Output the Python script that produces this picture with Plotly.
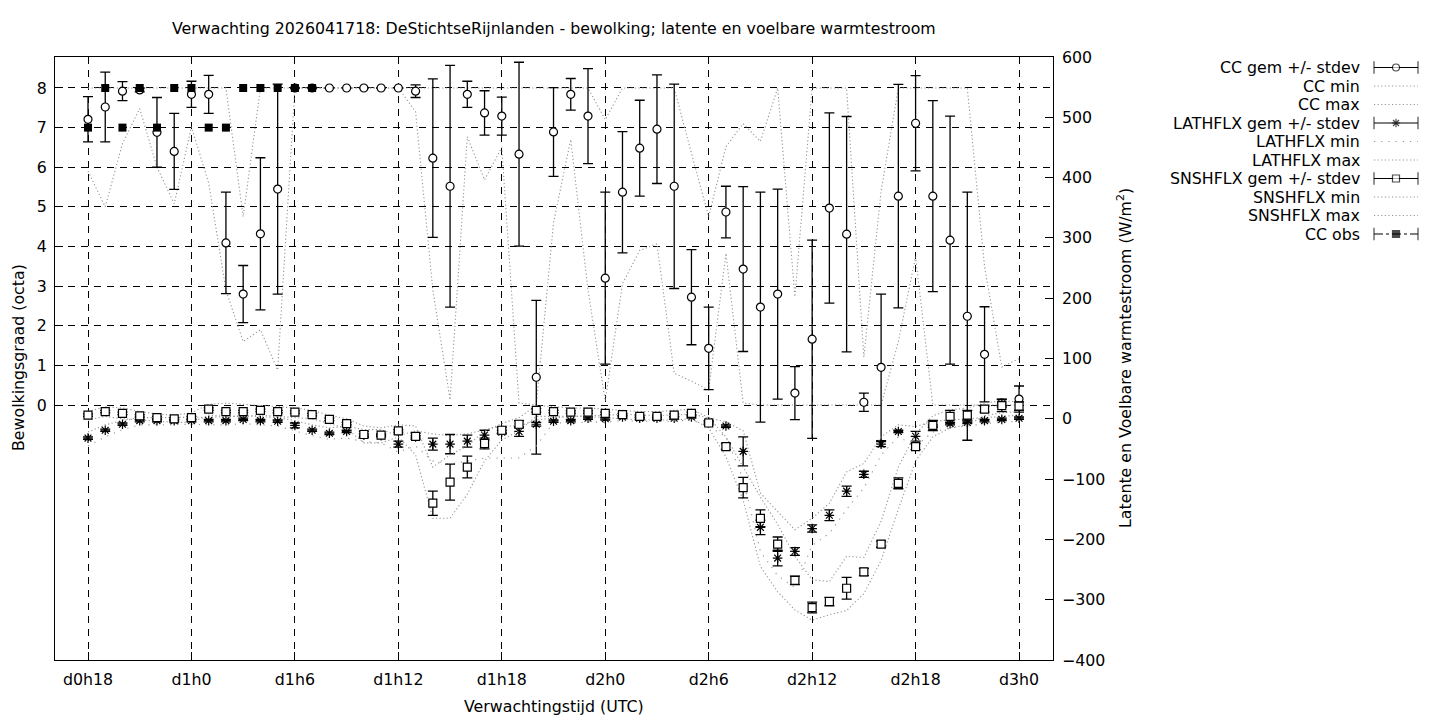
import plotly.graph_objects as go

# verwachtingsuren (lead time in uren vanaf d0h0)
uren = list(range(18, 73))
tick_uren = [18, 24, 30, 36, 42, 48, 54, 60, 66, 72]
tick_labels = ["d0h18", "d1h0", "d1h6", "d1h12", "d1h18", "d2h0", "d2h6", "d2h12", "d2h18", "d3h0"]

# bewolking (octa)
cc_gem = [7.21, 7.52, 7.92, 7.95, 6.88, 6.40, 7.84, 7.84, 4.09, 2.80, 4.32, 5.45, 8.00,
          8.00, 8.00, 8.00, 8.00, 8.00, 8.00, 7.92, 6.23, 5.52, 7.84, 7.37, 7.29, 6.33, 0.70,
          6.89, 7.84, 7.29, 3.20, 5.37, 6.48, 6.96, 5.52, 2.72, 1.43, 4.87, 3.43, 2.47, 2.80,
          0.30, 1.66, 4.97, 4.31, 0.07, 0.95, 5.27, 7.11, 5.27, 4.16, 2.24, 1.28, 0.05, 0.15]
cc_std = [0.57, 0.88, 0.24, 0.05, 0.88, 0.96, 0.33, 0.48, 1.28, 0.72, 1.92, 2.65, 0.0,
          0.0, 0.0, 0.0, 0.0, 0.0, 0.0, 0.16, 2.00, 3.05, 0.33, 0.56, 0.48, 2.32, 1.94,
          1.12, 0.40, 1.20, 2.17, 1.53, 1.21, 1.37, 2.58, 1.20, 1.04, 0.65, 2.08, 2.90, 2.65,
          0.67, 2.50, 2.40, 2.97, 0.23, 1.85, 2.82, 1.20, 2.41, 3.13, 3.13, 1.20, 0.10, 0.33]
cc_min = [5.9, 5.0, 6.6, 7.48, 6.0, 5.08, 7.02, 5.6, 2.9, 1.6, 1.9, 0.88, 8.0,
          8.0, 8.0, 8.0, 8.0, 8.0, 8.0, 7.4, 2.9, 0.13, 6.77, 5.68, 6.5, 0.05, 0.0,
          4.6, 6.7, 2.9, 0.1, 3.06, 3.9, 4.07, 0.8, 0.6, 0.38, 3.83, 0.05, 0.0, 0.0,
          0.0, 0.0, 0.0, 0.0, 0.0, 0.0, 1.6, 3.74, 0.0, 0.0, 0.0, 0.0, 0.0, 0.0]
cc_max = [8.0, 8.0, 8.0, 8.0, 8.0, 8.0, 8.0, 8.0, 8.0, 4.75, 8.0, 8.0, 8.0,
          8.0, 8.0, 8.0, 8.0, 8.0, 8.0, 8.0, 8.0, 8.0, 8.0, 8.0, 8.0, 8.0, 8.0,
          8.0, 8.0, 8.0, 7.2, 8.0, 8.0, 8.0, 8.0, 6.35, 4.75, 6.52, 7.1, 6.65, 8.0,
          2.73, 8.0, 8.0, 8.0, 1.21, 5.4, 8.0, 8.0, 8.0, 8.0, 8.0, 3.5, 0.96, 1.17]
cc_obs = [7, 8, 7, 8, 7, 8, 8, 7, 7, 8, 8, 8, 8, 8] + [None] * 41

# latente warmtestroom (W/m2)
lath_gem = [-32, -19, -9, -3, -3, -3, -3, -3, -3, -1, -3, -4, -11,
            -19, -24, -21, -27, -28, -42, -30, -42, -42, -37, -27, -22, -21, -9,
            -4, -3, 1, 0, 3, 1, 1, 1, 3, -5, -12, -54, -180, -231,
            -220, -182, -160, -120, -92, -42, -21, -29, -12, -8, -6, -3, -1, 1]
lath_std = [2, 2, 2, 2, 2, 2, 2, 2, 2, 2, 2, 2, 4,
            2, 2, 2, 2, 2, 5, 2, 10, 16, 10, 8, 3, 8, 3,
            2, 2, 2, 2, 2, 2, 2, 2, 2, 2, 2, 24, 12, 13,
            6.5, 6, 9, 8.5, 5, 4, 2, 8, 2, 2, 2, 2, 2, 2]
lath_min = [-45, -30, -18, -10, -10, -9, -9, -10, -10, -8, -10, -12, -20,
            -28, -34, -32, -38, -40, -55, -45, -70, -75, -70, -65, -65, -65, -45,
            -6, -8, -5, -6, -3, -4, -4, -4, -2, -12, -30, -100, -220, -260,
            -280, -210, -190, -150, -115, -60, -30, -45, -22, -15, -12, -8, -6, -4]
lath_max = [-22, -10, -3, 2, 2, 2, 2, 3, 3, 5, 3, 2, -3,
            -10, -15, -12, -18, -18, -28, -20, -25, -28, -25, -18, -12, -12, -2,
            2, 3, 6, 5, 8, 6, 6, 6, 8, 2, -5, -20, -123, -154,
            -184, -165, -140, -88, -74, -30, -10, -13, -4, -2, 0, 2, 4, 6]

# voelbare warmtestroom (W/m2)
snsh_gem = [6, 12, 9, 5, 2, 0, 2, 16, 12, 12, 14, 12, 11,
            7, -1, -8, -26, -27, -20, -29, -140, -105, -80, -41, -19, -9, 14,
            12, 11, 11, 9, 7, 4, 4, 6, 9, -7, -46, -114, -165, -208,
            -268, -313, -303, -281, -254, -208, -107, -46, -11, 4, 6, 16, 22, 21]
snsh_std = [2, 2, 2, 2, 2, 2, 2, 2, 2, 2, 2, 2, 2,
            2, 2, 2, 5, 2, 2, 5, 20, 30, 18, 9, 5, 6, 3,
            2, 2, 2, 2, 2, 2, 2, 2, 2, 3, 5, 17, 14, 12,
            7, 9, 7, 18, 6, 5, 9, 5, 8.5, 10, 8, 5, 10, 7]
snsh_min = [-2, 4, 0, -2, -4, -6, -6, 6, 4, 4, 6, 4, 2,
            0, -8, -16, -40, -40, -30, -60, -165, -165, -125, -70, -35, -20, 4,
            4, 4, 4, 2, 0, -2, -2, -2, 0, -15, -63, -135, -245, -287,
            -317, -334, -325, -318, -290, -235, -150, -70, -30, -15, -10, 5, 10, 12]
snsh_max = [12, 20, 18, 12, 8, 6, 10, 24, 26, 24, 22, 20, 18,
            14, 6, 0, -12, -15, -10, -12, -80, -60, -45, -20, -8, 2, 22,
            20, 18, 18, 16, 14, 12, 12, 14, 16, 2, -30, -80, -130, -175,
            -228, -267, -270, -228, -230, -170, -80, -25, 5, 15, 18, 26, 30, 28]

GRIJS = "#959595"
STIP = "1.2px,2.4px"
FONT = "DejaVu Sans"
FS = 15.8
# pagina heeft 8px body-marge; figuur schuift daardoor 8px op
OX, OY = 8, 8
W, H = 1440 - 2 * OX, 720 - OY


def px(sx):
    return (sx - OX) / W


def py(sy):
    return 1 - (sy - OY) / H


def minmax_lijn(y, yas, dash):
    return go.Scatter(x=uren, y=y, yaxis=yas, mode="lines",
                      line=dict(color=GRIJS, width=1.1, dash=dash),
                      hoverinfo="skip", showlegend=False)


def gem_punten(y, std, yas, symbool, vulling):
    return go.Scatter(x=uren, y=y, yaxis=yas, mode="markers",
                      error_y=dict(type="data", array=std, color="black", thickness=1.3, width=5),
                      marker=dict(symbol=symbool, size=8, color=vulling,
                                  line=dict(color="black", width=1.2)),
                      showlegend=False)


fig = go.Figure()
fig.add_trace(minmax_lijn(cc_min, "y", STIP))
fig.add_trace(minmax_lijn(cc_max, "y", STIP))
fig.add_trace(gem_punten(cc_gem, cc_std, "y", "circle", "white"))
fig.add_trace(go.Scatter(x=uren, y=cc_obs, mode="markers",
                         marker=dict(symbol="square", size=8, color="black"),
                         showlegend=False))
fig.add_trace(minmax_lijn(lath_min, "y2", "1.2px,6px"))
fig.add_trace(minmax_lijn(lath_max, "y2", STIP))
fig.add_trace(gem_punten(lath_gem, lath_std, "y2", "asterisk", "black"))
fig.add_trace(minmax_lijn(snsh_min, "y2", STIP))
fig.add_trace(minmax_lijn(snsh_max, "y2", STIP))
fig.add_trace(gem_punten(snsh_gem, snsh_std, "y2", "square", "white"))

# legenda in gnuplot-stijl (tekst rechts uitgelijnd, voorbeeld rechts ervan)
leg_items = [
    ("CC gem +/- stdev", "circle", "white", "solid", "black"),
    ("CC min", None, None, STIP, GRIJS),
    ("CC max", None, None, STIP, GRIJS),
    ("LATHFLX gem +/- stdev", "asterisk", "black", "solid", "black"),
    ("LATHFLX min", None, None, "1.2px,6px", GRIJS),
    ("LATHFLX max", None, None, STIP, GRIJS),
    ("SNSHFLX gem +/- stdev", "square", "white", "solid", "black"),
    ("SNSHFLX min", None, None, STIP, GRIJS),
    ("SNSHFLX max", None, None, STIP, GRIJS),
    ("CC obs", "square", "black", "dashdot", "black"),
]
leg_x0, leg_x1, leg_tekst_x = 1374, 1418, 1362
leg_y0, leg_dy = 67.5, 18.5
annotations = []
for i, (naam, symbool, vulling, dash, kleur) in enumerate(leg_items):
    yy = leg_y0 + i * leg_dy
    if symbool:
        fig.add_trace(go.Scatter(
            x=[leg_x0, (leg_x0 + leg_x1) / 2, leg_x1], y=[yy, yy, yy], xaxis="x3", yaxis="y3",
            mode="lines+markers", line=dict(color=kleur, width=1.2, dash=dash),
            marker=dict(symbol=["line-ns", symbool, "line-ns"], size=[9, 7, 9],
                        color=["black", vulling, "black"], line=dict(color="black", width=1.2)),
            hoverinfo="skip", showlegend=False))
    else:
        fig.add_trace(go.Scatter(
            x=[leg_x0, leg_x1], y=[yy, yy], xaxis="x3", yaxis="y3", mode="lines",
            line=dict(color=kleur, width=1.1, dash=dash), hoverinfo="skip", showlegend=False))
    annotations.append(dict(x=leg_tekst_x, y=yy, xref="x3", yref="y3", text=naam,
                            showarrow=False, xanchor="right", yanchor="middle",
                            font=dict(family=FONT, size=FS, color="black")))

annotations += [
    dict(x=px(554), y=py(29), xref="paper", yref="paper", showarrow=False,
         text="Verwachting 2026041718: DeStichtseRijnlanden - bewolking; latente en voelbare warmtestroom",
         xanchor="center", yanchor="middle", font=dict(family=FONT, size=FS, color="black")),
    dict(x=px(554), y=py(706), xref="paper", yref="paper", showarrow=False,
         text="Verwachtingstijd (UTC)", xanchor="center", yanchor="middle",
         font=dict(family=FONT, size=FS, color="black")),
    dict(x=px(18), y=py(358), xref="paper", yref="paper", showarrow=False,
         text="Bewolkingsgraad (octa)", textangle=-90, xanchor="center", yanchor="middle",
         font=dict(family=FONT, size=FS, color="black")),
    dict(x=px(1124), y=py(358), xref="paper", yref="paper", showarrow=False,
         text="Latente en Voelbare warmtestroom (W/m<sup>2</sup>)", textangle=-90,
         xanchor="center", yanchor="middle", font=dict(family=FONT, size=FS, color="black")),
]

grid = dict(showgrid=True, gridcolor="black", gridwidth=1, griddash="7px,6px")
tick = dict(ticks="inside", ticklen=8, tickcolor="black", automargin=False,
            tickfont=dict(family=FONT, size=FS, color="black"))

fig.update_layout(
    width=W, height=H,
    margin=dict(l=0, r=0, t=0, b=0, autoexpand=False),
    paper_bgcolor="white", plot_bgcolor="white",
    font=dict(family=FONT, size=FS, color="black"),
    showlegend=False,
    annotations=annotations,
    xaxis=dict(domain=[px(55), px(1053)], range=[16.086, 73.97], anchor="y",
               tickmode="array", tickvals=tick_uren, ticktext=tick_labels,
               ticklabelstandoff=5,
               showline=True, linecolor="black", linewidth=1, mirror=True,
               zeroline=False, **grid, **tick),
    yaxis=dict(domain=[py(660), py(57)], range=[-6.435, 8.782], anchor="x",
               tickmode="array", tickvals=list(range(0, 9)), ticklabelstandoff=4,
               showline=True, linecolor="black", linewidth=1, mirror=True,
               zeroline=False, **grid, **tick),
    yaxis2=dict(overlaying="y", side="right", anchor="x", range=[-400, 600], dtick=100,
                ticklabelstandoff=8,
                showgrid=False, zeroline=False, showline=False, **tick),
    xaxis3=dict(domain=[0.78, 1.0], range=[0.78 * W + OX, W + OX], anchor="y3",
                visible=False, fixedrange=True, automargin=False),
    yaxis3=dict(domain=[0, 1], range=[H + OY, OY], anchor="x3", visible=False,
                fixedrange=True, automargin=False),
)

fig.write_html("out.html")
